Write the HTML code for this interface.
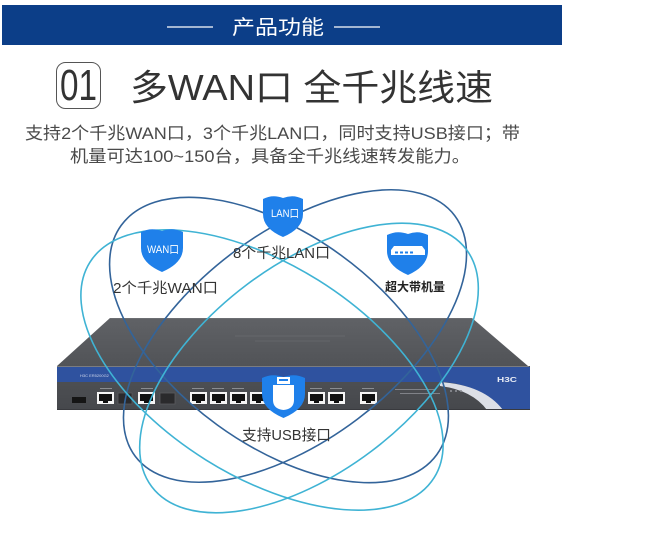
<!DOCTYPE html>
<html>
<head>
<meta charset="utf-8">
<style>
html,body{margin:0;padding:0;background:#fff;width:666px;height:536px;overflow:hidden;}
svg{display:block;position:absolute;left:0;top:0;}
</style>
</head>
<body>
<svg width="666" height="536" viewBox="0 0 666 536" xmlns="http://www.w3.org/2000/svg" font-family="'Liberation Sans','Noto Sans CJK SC',sans-serif" overflow="hidden">
<defs>
<linearGradient id="topface" x1="0" y1="0" x2="0" y2="1">
<stop offset="0" stop-color="#606266"/>
<stop offset="1" stop-color="#515357"/>
</linearGradient>
<linearGradient id="front" x1="0" y1="0" x2="0" y2="1">
<stop offset="0" stop-color="#505256"/>
<stop offset="1" stop-color="#46484c"/>
</linearGradient>
</defs>
<rect width="666" height="536" fill="#fff"/>

<!-- Header -->
<rect x="2" y="5" width="560" height="40" fill="#0c3e88"/>
<line x1="167" y1="27" x2="213" y2="27" stroke="#fff" stroke-width="1.3"/>
<line x1="334" y1="27" x2="380" y2="27" stroke="#fff" stroke-width="1.3"/>
<text x="232" y="34" font-size="20" fill="#fff" textLength="92" lengthAdjust="spacingAndGlyphs">产品功能</text>

<!-- Title -->
<rect x="56.5" y="62.5" width="44" height="46" rx="9" fill="none" stroke="#555" stroke-width="1"/>
<text x="60" y="100" font-size="44" fill="#333" textLength="37" lengthAdjust="spacingAndGlyphs">01</text>
<text x="130" y="100" font-size="36" fill="#333" textLength="363" lengthAdjust="spacingAndGlyphs">多WAN口 全千兆线速</text>

<!-- Subtitle -->
<text x="25" y="139" font-size="17" fill="#4a4a4a" textLength="495" lengthAdjust="spacingAndGlyphs">支持2个千兆WAN口，3个千兆LAN口，同时支持USB接口；带</text>
<text x="70" y="162" font-size="17" fill="#4a4a4a" textLength="400" lengthAdjust="spacingAndGlyphs">机量可达100~150台，具备全千兆线速转发能力。</text>

<!-- Device -->
<polygon points="110,318 472,318 528,366 57,366" fill="url(#topface)"/>
<line x1="110" y1="318.5" x2="472" y2="318.5" stroke="#6c6e72" stroke-width="1"/>
<line x1="235" y1="336" x2="345" y2="336" stroke="#6d6f73" stroke-width="1" opacity="0.6"/>
<line x1="255" y1="341" x2="330" y2="341" stroke="#6d6f73" stroke-width="1" opacity="0.5"/>
<rect x="57" y="366" width="473" height="44" fill="url(#front)"/>
<line x1="57" y1="366.5" x2="529" y2="366.5" stroke="#7a7c80" stroke-width="1"/>
<rect x="57" y="367" width="473" height="15" fill="#2f529f"/>
<path d="M445,382 Q482,386 500,410 L530,410 L530,382 Z" fill="#2f529f"/>
<path d="M440,382 Q484,385 503,410 L487,410 Q472,390 440,386 Z" fill="#dcdfe6"/>
<line x1="57" y1="409.5" x2="530" y2="409.5" stroke="#393a3e" stroke-width="1"/>
<text x="80" y="377" font-size="4" fill="#cdd5ea">H3C  ER5200G2</text>
<text x="497" y="382" font-size="7" font-weight="bold" fill="#e8ecf5" textLength="20" lengthAdjust="spacingAndGlyphs">H3C</text>
<!-- LED labels -->
<g fill="#8e9096" opacity="0.8">
<rect x="395" y="389" width="40" height="1"/>
<rect x="400" y="393" width="40" height="1"/>
<rect x="450" y="390" width="2" height="2"/>
<rect x="455" y="390" width="2" height="2"/>
<rect x="460" y="390" width="2" height="2"/>
</g>
<!-- port labels -->
<g fill="#8a8c90">
<rect x="100" y="388" width="12" height="1"/>
<rect x="141" y="388" width="12" height="1"/>
<rect x="192" y="388" width="12" height="1"/>
<rect x="212" y="388" width="12" height="1"/>
<rect x="232" y="388" width="12" height="1"/>
<rect x="310" y="388" width="12" height="1"/>
<rect x="330" y="388" width="12" height="1"/>
<rect x="362" y="388" width="12" height="1"/>
</g>
<!-- small slot -->
<rect x="72" y="397" width="14" height="6" fill="#151515"/>
<!-- SFP slots -->
<rect x="118" y="393" width="14" height="11" fill="#2a2a2c" stroke="#5a5a5e" stroke-width="0.8"/>
<rect x="160" y="393" width="15" height="11" fill="#2a2a2c" stroke="#5a5a5e" stroke-width="0.8"/>
<!-- RJ45 ports -->
<g>
<g transform="translate(97,392)"><rect width="17" height="12" fill="#f4f4f4"/><rect x="2" y="2" width="13" height="7" fill="#111"/><rect x="6" y="9" width="5" height="2" fill="#111"/></g>
<g transform="translate(138,392)"><rect width="17" height="12" fill="#f4f4f4"/><rect x="2" y="2" width="13" height="7" fill="#111"/><rect x="6" y="9" width="5" height="2" fill="#111"/></g>
<g transform="translate(190,392)"><rect width="17" height="12" fill="#f4f4f4"/><rect x="2" y="2" width="13" height="7" fill="#111"/><rect x="6" y="9" width="5" height="2" fill="#111"/></g>
<g transform="translate(210,392)"><rect width="17" height="12" fill="#f4f4f4"/><rect x="2" y="2" width="13" height="7" fill="#111"/><rect x="6" y="9" width="5" height="2" fill="#111"/></g>
<g transform="translate(230,392)"><rect width="17" height="12" fill="#f4f4f4"/><rect x="2" y="2" width="13" height="7" fill="#111"/><rect x="6" y="9" width="5" height="2" fill="#111"/></g>
<g transform="translate(250,392)"><rect width="17" height="12" fill="#f4f4f4"/><rect x="2" y="2" width="13" height="7" fill="#111"/><rect x="6" y="9" width="5" height="2" fill="#111"/></g>
<g transform="translate(308,392)"><rect width="17" height="12" fill="#f4f4f4"/><rect x="2" y="2" width="13" height="7" fill="#111"/><rect x="6" y="9" width="5" height="2" fill="#111"/></g>
<g transform="translate(328,392)"><rect width="17" height="12" fill="#f4f4f4"/><rect x="2" y="2" width="13" height="7" fill="#111"/><rect x="6" y="9" width="5" height="2" fill="#111"/></g>
<g transform="translate(360,392)"><rect width="17" height="12" fill="#f4f4f4"/><rect x="2" y="2" width="13" height="7" fill="#111"/><rect x="6" y="9" width="5" height="2" fill="#111"/></g>
</g>

<!-- Orbit ellipses (as arc paths, no transforms) -->
<g fill="none" stroke-width="1.6">
<path d="M121.2,225.4 A195,105 36 0 1 436.8,454.6 A195,105 36 0 1 121.2,225.4 Z" stroke="#33649a"/>
<path d="M135.3,456.4 A200,104 -37 0 1 454.7,215.6 A200,104 -37 0 1 135.3,456.4 Z" stroke="#33649a"/>
<path d="M89.8,262.4 A203,106 32 0 1 434.2,477.6 A203,106 32 0 1 89.8,262.4 Z" stroke="#3fb3d4"/>
<path d="M151.7,486.6 A197,104 -37 0 1 466.3,249.4 A197,104 -37 0 1 151.7,486.6 Z" stroke="#3fb3d4"/>
</g>

<!-- Shields -->
<path d="M141,232 Q151,227 162,231 Q173,227 183,232 L183,248 Q183,263 162,272 Q141,263 141,248 Z" fill="#1f80ea"/>
<text x="147" y="253" font-size="11" fill="#fff" textLength="32" lengthAdjust="spacingAndGlyphs">WAN口</text>

<path d="M263,199 Q272.5,194 283,198 Q293.4,194 303,199 L303,214 Q303,228.5 283,237 Q263,228.5 263,214 Z" fill="#1f80ea"/>
<text x="271" y="217" font-size="11" fill="#fff" textLength="28" lengthAdjust="spacingAndGlyphs">LAN口</text>

<path d="M387,235 Q397,230 408,234 Q418,230 428,235 L428,251 Q428,266 408,275 Q387,266 387,251 Z" fill="#1f80ea"/>
<polygon points="394,246 422,246 425,250 391,250" fill="#fff"/>
<rect x="391" y="250" width="34" height="5" fill="#fff"/>
<g fill="#1f80ea"><rect x="395" y="251.5" width="3" height="2"/><rect x="400" y="251.5" width="3" height="2"/><rect x="405" y="251.5" width="3" height="2"/><rect x="410" y="251.5" width="3" height="2"/></g>

<path d="M262,378 Q272,373 283.5,377 Q295,373 305,378 L305,394 Q305,409 283.5,418 Q262,409 262,394 Z" fill="#1f80ea"/>
<rect x="277" y="377" width="13" height="7" fill="#fff"/>
<rect x="279" y="379" width="9" height="2" fill="#1f80ea"/>
<path d="M273,385 H294 V400 Q294,409 283.5,410 Q273,409 273,400 Z" fill="#fff"/>

<!-- Labels -->
<text x="113" y="293" font-size="14.5" fill="#333" textLength="105" lengthAdjust="spacingAndGlyphs">2个千兆WAN口</text>
<text x="233" y="258" font-size="14.5" fill="#333" textLength="97" lengthAdjust="spacingAndGlyphs">8个千兆LAN口</text>
<text x="385" y="291" font-size="12" font-weight="bold" fill="#222" textLength="60" lengthAdjust="spacingAndGlyphs">超大带机量</text>
<text x="242" y="440" font-size="15" fill="#333" textLength="89" lengthAdjust="spacingAndGlyphs">支持USB接口</text>
</svg>
</body>
</html>
